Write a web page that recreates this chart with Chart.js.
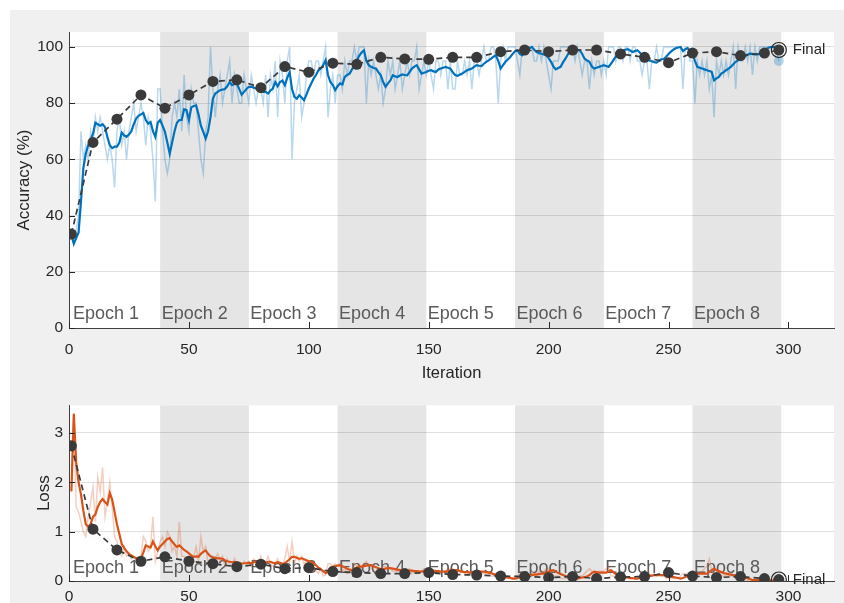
<!DOCTYPE html>
<html><head><meta charset="utf-8">
<script src="https://cdn.jsdelivr.net/npm/chart.js@4.4.1/dist/chart.umd.min.js"></script>
<style>
html,body{margin:0;padding:0;background:#fff;width:844px;height:603px;overflow:hidden;}
#panel{position:absolute;left:10px;top:10px;width:834px;height:593px;background:#f0f0f0;}
canvas{position:absolute;left:0;}
#c1{top:0}
#c2{top:390px}
</style></head><body>
<div id="panel"></div>
<canvas id="c1" width="844" height="390"></canvas>
<canvas id="c2" width="844" height="213"></canvas>
<script>
// ---------------- data ----------------
const epochLabels = ["Epoch 1","Epoch 2","Epoch 3","Epoch 4","Epoch 5","Epoch 6","Epoch 7","Epoch 8"];
const epochStartIters = [1, 38, 75, 112, 149, 186, 223, 260];
const lastIteration = 296;

const xTicks = [0, 50, 100, 150, 200, 250, 300];
const accTicks = [0, 20, 40, 60, 80, 100];
const lossTicks = [0, 1, 2, 3];

// training accuracy per iteration (raw mini-batch)
const trainAccRaw = [].concat(
 [35,30,35,40,70,60,65,60,70,65,75,70,75,70,65,60,65,60,50,70,75,65,70,60,70,75,80,70,75,80,75,65,75,70,60,45,85],
 [85,70,60,55,60,75,80,75,85,70,90,75,70,85,80,80,70,60,55,70,75,100,85,75,85,90,80,85,90,95,80,90,85,80,80,90,85],
 [80,90,85,80,85,85,80,90,75,90,85,95,75,95,90,80,95,100,60,80,85,90,75,80,90,95,95,90,95,95,90,95,100,75,85,90,80],
 [90,90,85,95,90,95,95,100,95,100,100,100,80,95,90,95,90,85,90,80,85,95,90,95,85,90,95,85,90,95,90,95,95,100,85,90,95],
 [90,95,90,85,95,95,90,95,95,85,95,85,85,95,90,90,95,90,95,85,95,95,90,95,100,95,95,100,100,95,80,95,100,95,100,100,100],
 [100,95,90,100,100,100,100,100,95,95,100,95,100,95,90,85,95,95,95,100,100,100,100,100,100,95,100,95,90,95,95,85,95,90,95,95,90],
 [95,90,100,100,100,95,100,100,95,100,100,95,100,100,95,95,90,95,95,85,95,95,100,95,95,100,100,100,100,100,100,100,100,85,100,100,95],
 [95,80,95,90,95,90,95,85,90,75,95,90,95,90,95,90,95,100,85,100,95,95,100,95,100,90,100,95,100,100,100,100,100,100,100,100,95]
);
// training accuracy (smoothed)
const trainAccSmooth = [].concat(
 [33,30,32,34,45,57,62,65,67,69,73,72.5,72,72.5,71.5,68,65,64,64.5,64.5,66,69.5,68.5,68,68.8,70,72.5,74.5,75.5,76,76.5,74,72.7,73.3,70,68,73],
 [74,72,69.8,66,62,66,70,73,74,74,77.8,77.5,74,78.5,79,79.2,76,72,69.8,67.4,70,75,81.6,83.4,84,84.6,84.8,85,86,87.5,86.4,86.8,87,85,83,84,85],
 [85.8,85.8,85.5,85.2,85.2,84.5,84,84,83.4,84.5,85.2,87.5,86,87.5,88,86.4,89,91,85,82.2,81.6,82.8,82,81,83,85.2,87,88.7,90,91.7,92.3,93.5,95.3,90,87.5,86.4,84.6],
 [86,87,86.6,89.3,90,90.5,92,93.7,95,96.8,98,98.8,95,93.5,92.9,92.5,92.3,91,89.9,87.5,85.8,87,88.1,89.9,89.5,89.3,89.8,90.2,90,89.9,91,92.3,93,93.5,92,90.5,90.8],
 [91.1,91.5,91.7,91.3,91.1,92,92.3,92.6,92.9,92.6,92.3,91,90,89.7,90.2,90.5,91.1,91.7,92,92.3,93,93.5,93.3,93.2,94,94.7,95.2,95.8,96.5,97,95,92.3,93.5,94.7,95.5,96.4,97.5],
 [98.5,98.8,97.5,97,98,98.8,99.5,100,99,98.2,97.8,97.6,97.3,97,96,94.7,93,92,92.5,92.9,94.5,95.8,97.3,98.8,99.2,99.4,99,98.8,97.5,95.8,95.2,94.7,93,92.3,92.6,92.9,93.2],
 [93.5,93.2,92.9,94,95.3,96.5,97.6,98.3,98.8,99,99.2,98.7,98.2,98.5,98.8,98,97,96.3,95.6,95.2,94.9,94.6,94.4,95,95.6,95.7,96.5,97.5,98.3,99,99.5,99.8,100,98.5,99.2,99.6,98.5],
 [97.6,95,92.9,92.6,92.3,92,91.7,91.4,91.1,88.1,88.8,89.3,90.5,91,91.7,92.3,92.9,93.8,94.7,95.2,95.8,96.3,96.8,97.2,97.6,97.5,97.3,97.3,97.5,97.6,98.5,99.4,99.8,100,100,100,100]
);
// training loss per iteration (raw mini-batch)
const trainLossRaw = [].concat(
 [1.8,3.4,1.5,1.4,1.2,1.0,0.9,1.3,1.6,1.9,1.2,2.1,1.8,2.3,1.3,1.6,2.0,1.5,0.9,0.8,0.6,0.5,0.7,0.5,0.55,0.45,0.5,0.4,0.45,0.5,0.9,0.8,0.6,0.7,1.3,0.4,0.6],
 [0.8,0.9,0.7,1.0,0.9,0.6,0.7,0.5,1.2,0.5,0.5,0.45,0.5,0.35,0.5,0.7,0.4,0.9,0.6,0.7,0.35,0.4,0.5,0.45,0.55,0.4,0.5,0.3,0.45,0.35,0.3,0.45,0.3,0.35,0.3,0.4,0.35],
 [0.4,0.3,0.45,0.4,0.35,0.5,0.3,0.35,0.5,0.35,0.3,0.35,0.45,0.3,0.3,0.45,0.7,0.4,0.8,0.35,0.5,0.4,0.5,0.35,0.4,0.35,0.4,0.25,0.2,0.15,0.25,0.1,0.12,0.35,0.35,0.3,0.35],
 [0.3,0.35,0.2,0.25,0.15,0.2,0.2,0.35,0.3,0.35,0.25,0.35,0.4,0.3,0.3,0.2,0.2,0.2,0.2,0.3,0.3,0.25,0.25,0.2,0.2,0.2,0.2,0.25,0.2,0.2,0.25,0.15,0.2,0.15,0.2,0.2,0.25],
 [0.25,0.2,0.2,0.15,0.2,0.15,0.2,0.2,0.2,0.25,0.25,0.25,0.2,0.15,0.15,0.2,0.15,0.2,0.15,0.2,0.2,0.2,0.2,0.15,0.15,0.15,0.15,0.1,0.1,0.15,0.1,0.05,0.05,0.05,0.05,0.05,0.05],
 [0.1,0.1,0.15,0.1,0.15,0.15,0.1,0.15,0.15,0.15,0.2,0.15,0.2,0.25,0.25,0.2,0.1,0.1,0.1,0.05,0.05,0.05,0.05,0.05,0.05,0.1,0.1,0.1,0.1,0.15,0.2,0.25,0.2,0.15,0.15,0.2,0.2],
 [0.2,0.25,0.3,0.1,0.1,0.05,0.05,0.05,0.05,0.05,0.05,0.05,0.05,0.05,0.1,0.1,0.1,0.1,0.15,0.15,0.1,0.15,0.1,0.15,0.1,0.1,0.05,0.05,0.05,0.05,0.05,0.05,0.1,0.15,0.15,0.15,0.15],
 [0.15,0.15,0.15,0.15,0.2,0.25,0.3,0.45,0.2,0.15,0.15,0.15,0.1,0.1,0.1,0.1,0.1,0.1,0.05,0.05,0.02,0.02,0.02,0.01,0.01,0.01,0.01,0.02,0.01,0.01,0.01,0.01,0.01,0.01,0.01,0.01,0.01]
);
// training loss (smoothed)
const trainLossSmooth = [].concat(
 [1.82,3.39,2.4,2.0,1.75,1.42,1.15,1.1,1.15,1.3,1.35,1.5,1.6,1.66,1.6,1.55,1.78,1.65,1.4,1.15,0.95,0.75,0.67,0.6,0.55,0.52,0.49,0.46,0.43,0.45,0.58,0.72,0.7,0.68,0.8,0.7,0.62],
 [0.7,0.75,0.8,0.85,0.87,0.8,0.74,0.69,0.72,0.68,0.63,0.6,0.56,0.52,0.49,0.5,0.49,0.55,0.59,0.62,0.55,0.5,0.48,0.47,0.46,0.46,0.45,0.42,0.4,0.39,0.38,0.39,0.38,0.37,0.35,0.36,0.36],
 [0.37,0.36,0.38,0.39,0.39,0.4,0.38,0.37,0.39,0.39,0.37,0.36,0.38,0.37,0.35,0.36,0.4,0.44,0.49,0.49,0.47,0.45,0.46,0.44,0.42,0.4,0.39,0.36,0.32,0.27,0.24,0.2,0.16,0.2,0.27,0.29,0.3],
 [0.31,0.32,0.3,0.28,0.25,0.23,0.22,0.25,0.27,0.29,0.29,0.3,0.31,0.32,0.32,0.3,0.28,0.26,0.24,0.24,0.25,0.26,0.26,0.25,0.24,0.23,0.22,0.22,0.22,0.21,0.21,0.21,0.2,0.2,0.19,0.19,0.2],
 [0.21,0.22,0.22,0.21,0.2,0.2,0.19,0.19,0.19,0.2,0.21,0.22,0.22,0.22,0.2,0.19,0.18,0.18,0.17,0.17,0.18,0.18,0.19,0.19,0.19,0.18,0.17,0.16,0.14,0.13,0.12,0.11,0.09,0.08,0.07,0.06,0.05],
 [0.05,0.06,0.08,0.09,0.1,0.11,0.12,0.12,0.13,0.13,0.14,0.15,0.15,0.17,0.19,0.21,0.22,0.19,0.16,0.14,0.12,0.1,0.08,0.07,0.06,0.05,0.05,0.06,0.07,0.08,0.09,0.12,0.16,0.19,0.18,0.17,0.17],
 [0.17,0.17,0.19,0.22,0.18,0.14,0.11,0.09,0.08,0.08,0.07,0.06,0.06,0.05,0.05,0.06,0.07,0.08,0.09,0.1,0.11,0.12,0.12,0.12,0.12,0.12,0.12,0.11,0.09,0.08,0.07,0.06,0.05,0.06,0.08,0.11,0.13],
 [0.15,0.15,0.15,0.15,0.15,0.15,0.15,0.18,0.22,0.25,0.22,0.2,0.18,0.16,0.15,0.14,0.13,0.12,0.11,0.1,0.1,0.09,0.07,0.05,0.04,0.02,0.02,0.02,0.02,0.01,0.01,0.01,0.01,0.01,0.01,0.01,0.01]
);
// validation
const valIterations = [1,10,20,30,40,50,60,70,80,90,100,110,120,130,140,150,160,170,180,190,200,210,220,230,240,250,260,270,280,290,296];
const valAcc = [33.4,66,74.3,82.9,78.2,82.9,87.7,88.3,85.5,93,91,94.2,93.8,96.3,95.7,95.6,96.3,96.3,98.3,98.9,98.3,98.9,98.9,97.5,96.3,94.4,97.8,98.3,96.9,97.8,98.9];
const valLoss = [2.74,1.05,0.63,0.40,0.49,0.40,0.35,0.29,0.34,0.25,0.27,0.19,0.17,0.15,0.15,0.17,0.13,0.12,0.10,0.09,0.07,0.09,0.05,0.08,0.09,0.17,0.10,0.07,0.09,0.05,0.03];

// ---------------- rendering ----------------
const FONT = "'Liberation Sans', Arial, Helvetica, sans-serif";
const TXT = '#262626';
Chart.defaults.font.family = FONT;
Chart.defaults.color = TXT;

const iterPts = arr => arr.map((v, i) => ({x: i + 1, y: v}));
const valPts = arr => arr.map((v, i) => ({x: valIterations[i], y: v}));

function panelPlugin(labelOffset) {
  return {
    id: 'panel',
    beforeDraw(chart) {
      const {ctx, chartArea: a, scales: {x}} = chart;
      ctx.save();
      ctx.fillStyle = '#ffffff';
      ctx.fillRect(a.left, a.top, a.width, a.height);
      ctx.fillStyle = '#e5e5e5';
      for (let e = 1; e < epochStartIters.length; e += 2) {
        const x0 = x.getPixelForValue(epochStartIters[e]);
        const nxt = e + 1 < epochStartIters.length ? epochStartIters[e + 1] : lastIteration + 1;
        const x1 = x.getPixelForValue(nxt);
        ctx.fillRect(x0, a.top, x1 - x0, a.height);
      }
      ctx.restore();
    },
    beforeDatasetsDraw(chart) {
      const {ctx, chartArea: a, scales: {x}} = chart;
      ctx.save();
      ctx.font = '18px ' + FONT;
      ctx.fillStyle = '#5a5a5a';
      ctx.textBaseline = 'alphabetic';
      ctx.textAlign = 'left';
      epochLabels.forEach((t, k) => {
        ctx.fillText(t, x.getPixelForValue(epochStartIters[k]) + 1.5, a.bottom - labelOffset);
      });
      ctx.restore();
    },
    afterDraw(chart) {
      const {ctx, chartArea: a, scales: {x, y}} = chart;
      ctx.save();
      ctx.strokeStyle = '#262626';
      ctx.lineWidth = 1;
      ctx.beginPath();
      xTicks.forEach(v => { const p = Math.round(x.getPixelForValue(v)) + 0.5; ctx.moveTo(p, a.bottom); ctx.lineTo(p, a.bottom - 6); });
      y.ticks.forEach(t => { const p = Math.round(y.getPixelForValue(t.value)) + 0.5; ctx.moveTo(a.left, p); ctx.lineTo(a.left + 6, p); });
      ctx.stroke();
      const ds = chart.data.datasets[1].data;
      const last = ds[ds.length - 1];
      ctx.font = '15px ' + FONT;
      ctx.fillStyle = TXT;
      ctx.textBaseline = 'middle';
      ctx.textAlign = 'left';
      ctx.fillText('Final', x.getPixelForValue(last.x) + 14, y.getPixelForValue(last.y));
      ctx.restore();
    }
  };
}

function makeChart(canvasId, o) {
  return new Chart(document.getElementById(canvasId), {
    type: 'line',
    data: {
      datasets: [
        {
          data: [{x: lastIteration, y: o.val[o.val.length - 1]}],
          showLine: false, pointRadius: 7.5, pointBorderWidth: 1.2,
          pointBorderColor: '#262626', pointBackgroundColor: 'rgba(0,0,0,0)'
        },
        {
          data: valPts(o.val),
          borderColor: '#3a3a3a', borderWidth: 1.7, borderDash: [6, 4],
          pointRadius: 5.5, pointBorderWidth: 0,
          pointBackgroundColor: '#3a3a3a', pointBorderColor: '#3a3a3a'
        },
        {
          data: iterPts(o.smooth),
          borderColor: o.color, borderWidth: 2.2, pointRadius: 0
        },
        {
          data: [{x: lastIteration, y: o.raw[o.raw.length - 1]}],
          showLine: false, pointRadius: 5, pointBorderWidth: 0,
          pointBackgroundColor: o.light
        },
        {
          data: iterPts(o.raw),
          borderColor: o.light, borderWidth: 1.5, pointRadius: 0
        }
      ]
    },
    options: {
      responsive: false, animation: false, devicePixelRatio: 1, events: [],
      elements: { line: { tension: 0 } },
      layout: { padding: { left: 10, right: 10, top: o.padTop, bottom: 0 } },
      plugins: { legend: { display: false }, tooltip: { enabled: false } },
      scales: {
        x: {
          type: 'linear', min: 0, max: 319,
          afterFit: s => { s.height = o.xHeight; },
          afterBuildTicks: s => { s.ticks = xTicks.map(v => ({value: v})); },
          ticks: { padding: o.xTickPad, font: { size: 15.5 }, color: TXT, maxRotation: 0 },
          grid: { display: false, drawTicks: false },
          border: { display: true, color: '#404040', width: 1 },
          title: { display: o.xTitle, text: 'Iteration', color: TXT,
                   font: { size: 16.5 }, padding: { top: 0, bottom: 7 } }
        },
        y: {
          type: 'linear', min: 0, max: o.yMax,
          afterFit: s => { s.width = 59; },
          afterBuildTicks: s => { s.ticks = o.yTicks.map(v => ({value: v})); },
          ticks: { padding: 6, font: { size: 15.5 }, color: TXT },
          grid: { color: 'rgba(38,38,38,0.15)', lineWidth: 1, drawTicks: false },
          border: { display: true, color: '#404040', width: 1 },
          title: { display: true, text: o.yTitle, color: TXT,
                   font: { size: 17 }, padding: { top: o.yTitlePad, bottom: 0 } }
        }
      }
    },
    plugins: [panelPlugin(o.epochOffset)]
  });
}

makeChart('c1', {
  raw: trainAccRaw, smooth: trainAccSmooth, val: valAcc,
  color: '#0072BD', light: 'rgba(0,114,189,0.28)',
  padTop: 32, xHeight: 62, xTickPad: 12, xTitle: true,
  yMax: 105.3, yTicks: accTicks, yTitle: 'Accuracy (%)', yTitlePad: 4,
  epochOffset: 9.5
});
makeChart('c2', {
  raw: trainLossRaw, smooth: trainLossSmooth, val: valLoss,
  color: '#D95319', light: 'rgba(217,83,25,0.28)',
  padTop: 13, xHeight: 22, xTickPad: 6, xTitle: false,
  yMax: 3.56, yTicks: lossTicks, yTitle: 'Loss', yTitlePad: 24,
  epochOffset: 8.5
});
</script>
</body></html>
